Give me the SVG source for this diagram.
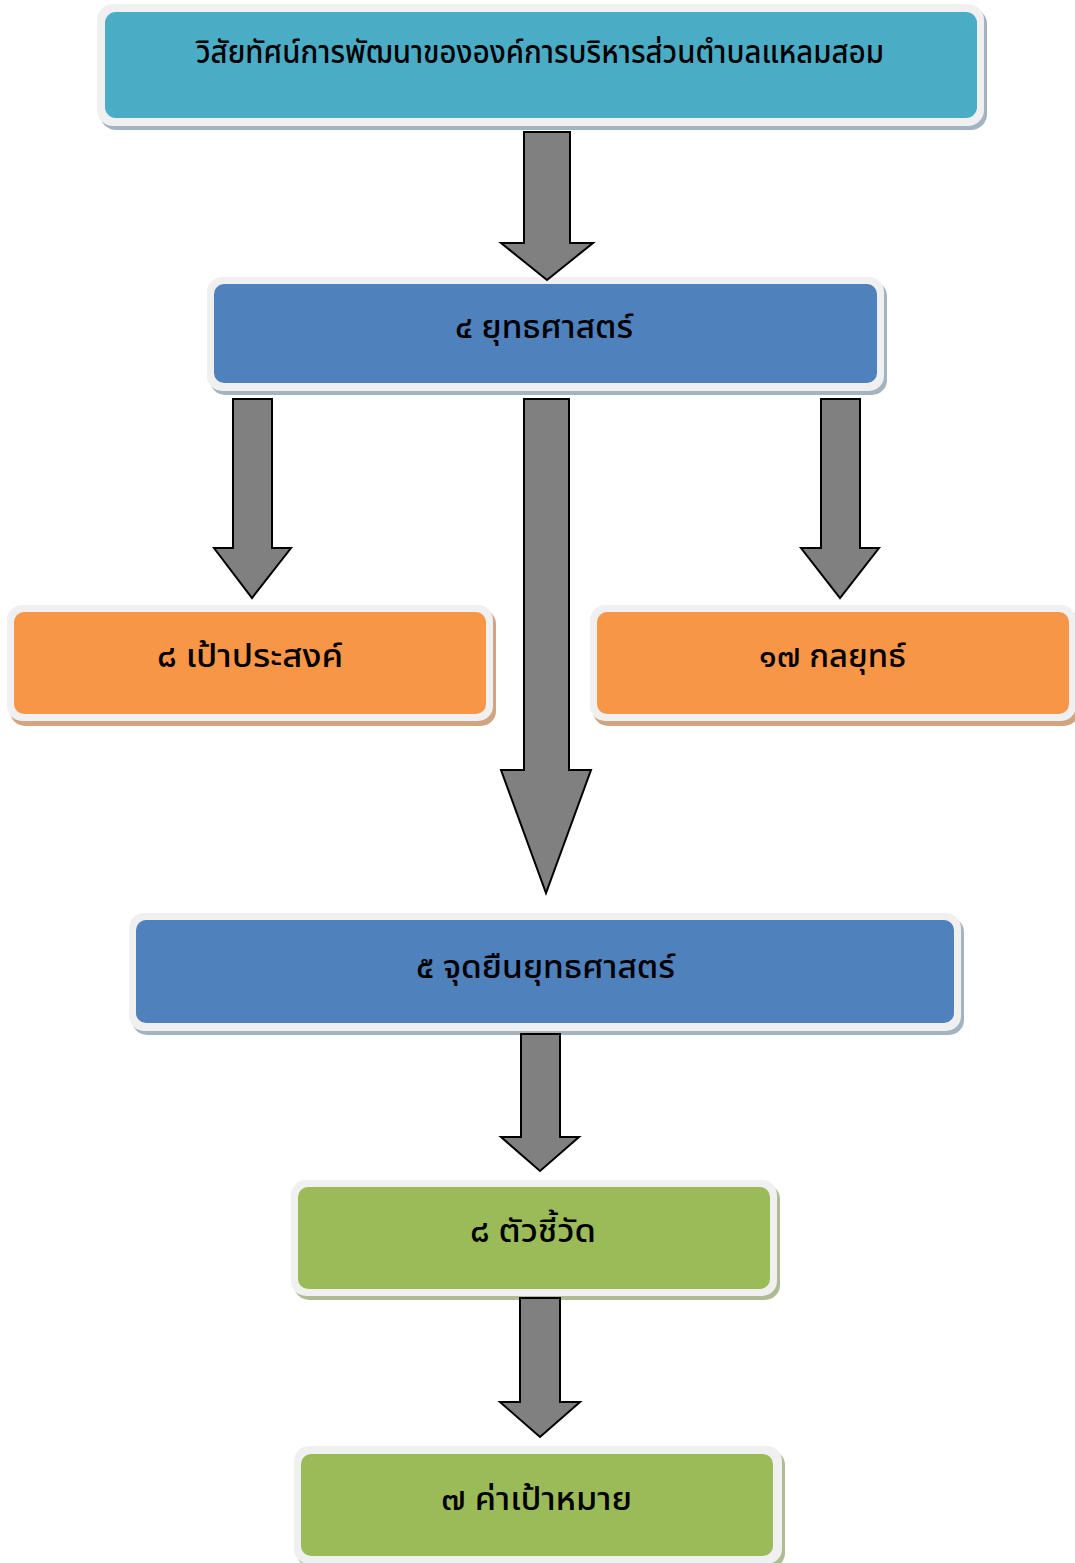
<svg xmlns="http://www.w3.org/2000/svg" width="1075" height="1563" viewBox="0 0 1075 1563">
<style>
.frame{fill:#f0f0f0}
.t{font-family:"Noto Sans Thai","Noto Sans","DejaVu Sans",sans-serif;font-size:32px;font-weight:500;fill:#000;text-anchor:middle}
.arr{fill:#808080;stroke:#000;stroke-width:2;stroke-linejoin:miter}
.sb{fill:#a3b3c0}
.so{fill:#d2a582}
.sg{fill:#aebb93}
.cyan{fill:#4bacc6}
.blue{fill:#4f81bd}
.orange{fill:#f79646}
.green{fill:#9bbb59}
</style>
<rect width="1075" height="1563" fill="#fff"/>
<g id="n1">
<rect class="sb" x="100" y="8" width="887" height="122" rx="16"/>
<rect class="frame" x="97" y="4" width="887" height="122" rx="16"/>
<rect class="cyan" x="105" y="12" width="872" height="106" rx="11"/>
<text class="t" x="540" y="63" textLength="688" lengthAdjust="spacingAndGlyphs">วิสัยทัศน์การพัฒนาขององค์การบริหารส่วนตำบลแหลมสอม</text>
</g>
<g id="n2">
<rect class="sb" x="210" y="281" width="677" height="114" rx="15"/>
<rect class="frame" x="207" y="277" width="677" height="114" rx="15"/>
<rect class="blue" x="214" y="284" width="663" height="99" rx="10"/>
<text class="t" x="544" y="338" textLength="178" lengthAdjust="spacingAndGlyphs">๔ ยุทธศาสตร์</text>
</g>
<g id="n3">
<rect class="so" x="10" y="609" width="486" height="117" rx="15"/>
<rect class="frame" x="7" y="605" width="486" height="116" rx="15"/>
<rect class="orange" x="14" y="612" width="472" height="102" rx="10"/>
<text class="t" x="250" y="667" textLength="186" lengthAdjust="spacingAndGlyphs">๘ เป้าประสงค์</text>
</g>
<g id="n4">
<rect class="so" x="593" y="609" width="486" height="117" rx="15"/>
<rect class="frame" x="590" y="605" width="486" height="116" rx="15"/>
<rect class="orange" x="597" y="612" width="472" height="102" rx="10"/>
<text class="t" x="832.5" y="667" textLength="147" lengthAdjust="spacingAndGlyphs">๑๗ กลยุทธ์</text>
</g>
<g id="n5">
<rect class="sb" x="132" y="917" width="832" height="118" rx="15"/>
<rect class="frame" x="129" y="913" width="832" height="118" rx="15"/>
<rect class="blue" x="136" y="920" width="818" height="103" rx="10"/>
<text class="t" x="545.5" y="978" textLength="259" lengthAdjust="spacingAndGlyphs">๕ จุดยืนยุทธศาสตร์</text>
</g>
<g id="n6">
<rect class="sg" x="294" y="1184" width="486" height="116" rx="15"/>
<rect class="frame" x="291" y="1180" width="486" height="116" rx="15"/>
<rect class="green" x="298" y="1187" width="472" height="102" rx="10"/>
<text class="t" x="533" y="1242" textLength="126" lengthAdjust="spacingAndGlyphs">๘ ตัวชี้วัด</text>
</g>
<g id="n7">
<rect class="sg" x="297" y="1450" width="488" height="118" rx="15"/>
<rect class="frame" x="294" y="1446" width="488" height="118" rx="15"/>
<rect class="green" x="301" y="1454" width="472" height="102" rx="10"/>
<text class="t" x="536.5" y="1510" textLength="191" lengthAdjust="spacingAndGlyphs">๗ ค่าเป้าหมาย</text>
</g>
<g id="connectors">
<polygon class="arr" points="524,132 570,132 570,243 593,243 547,280 501,243 524,243"/>
<polygon class="arr" points="233,399 272,399 272,548 291,548 252,598 214,548 233,548"/>
<polygon class="arr" points="524,399 569,399 569,770 591,770 546,893 501,770 524,770"/>
<polygon class="arr" points="821,399 860,399 860,548 879,548 840,598 801,548 821,548"/>
<polygon class="arr" points="521,1034 560,1034 560,1137 579,1137 540,1171 501,1137 521,1137"/>
<polygon class="arr" points="520,1298 560,1298 560,1402 580,1402 540,1437 500,1402 520,1402"/>
</g>
</svg>
